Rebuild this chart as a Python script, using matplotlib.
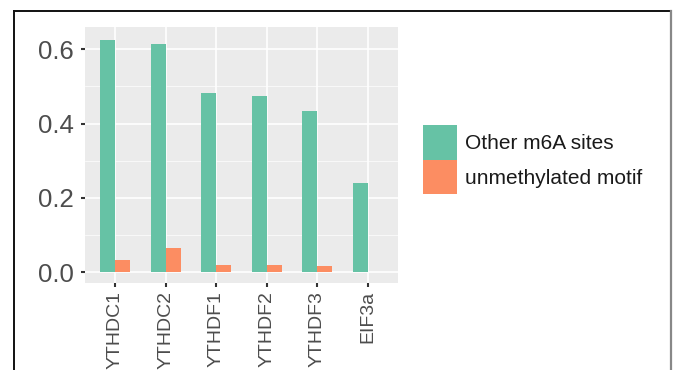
import matplotlib
matplotlib.use("Agg")
import matplotlib.pyplot as plt
import numpy as np
from matplotlib.patches import Patch
from matplotlib.lines import Line2D
from matplotlib.ticker import MultipleLocator

plt.rcParams["font.family"] = ["Liberation Sans", "DejaVu Sans"]

# ---------- data ----------
proteins = ["YTHDC1", "YTHDC2", "YTHDF1", "YTHDF2", "YTHDF3", "EIF3a"]
other_m6a = [0.624, 0.613, 0.483, 0.474, 0.433, 0.239]
unmeth_motif = [0.032, 0.066, 0.019, 0.019, 0.017, 0.0]
series_names = ["Other m6A sites", "unmethylated motif"]
colors = ["#66C2A5", "#FC8D62"]

# ---------- figure ----------
fig = plt.figure(figsize=(6.73, 3.70), dpi=100)
ax = fig.add_axes([85 / 673, 1 - 283 / 370, (398 - 85) / 673, (283 - 27.5) / 370])

x = np.arange(len(proteins))
bw = 0.3
ax.bar(x - bw / 2, other_m6a, width=bw, color=colors[0], zorder=3)
ax.bar(x + bw / 2, unmeth_motif, width=bw, color=colors[1], zorder=3)

# ggplot-like panel
ax.set_facecolor("#EBEBEB")
for s in ax.spines.values():
    s.set_visible(False)
ax.set_xlim(-0.6, 5.6)
ax.set_ylim(-0.0296, 0.6587)
ax.set_xticks(x)
ax.set_xticklabels(proteins, rotation=90)
ax.yaxis.set_major_locator(MultipleLocator(0.2))
ax.yaxis.set_minor_locator(MultipleLocator(0.1))
ax.set_yticks([0.0, 0.2, 0.4, 0.6])
ax.set_yticklabels(["0.0", "0.2", "0.4", "0.6"])
ax.grid(which="major", color="white", linewidth=1.2, zorder=0)
ax.grid(which="minor", axis="y", color="white", linewidth=0.5, zorder=0)
ax.set_axisbelow(True)
ax.tick_params(axis="y", which="major", length=3, width=1.5, color="#333333",
               labelsize=18.5, labelcolor="#4D4D4D", pad=4.8)
ax.tick_params(axis="x", which="major", length=3, width=1.5, color="#333333",
               labelsize=14, labelcolor="#4D4D4D", pad=3)
ax.tick_params(axis="y", which="minor", length=0)

# legend
handles = [Patch(facecolor=c, edgecolor="none") for c in colors]
leg = fig.legend(handles, series_names, loc="upper left",
                 bbox_to_anchor=(406 / 673, 1 - 108 / 370), frameon=False,
                 fontsize=15, handlelength=1.63, handleheight=2.2,
                 labelspacing=0.0, handletextpad=0.4, borderpad=0.3)
for t in leg.get_texts():
    t.set_color("#1A1A1A")

# outer frame
fig.add_artist(Line2D([14 / 673, 14 / 673], [0, 1 - 11 / 370], transform=fig.transFigure,
                      color="#111111", linewidth=1.4))
fig.add_artist(Line2D([14 / 673, 671 / 673], [1 - 11 / 370, 1 - 11 / 370], transform=fig.transFigure,
                      color="#111111", linewidth=1.4))
fig.add_artist(Line2D([671 / 673, 671 / 673], [0, 1 - 11 / 370], transform=fig.transFigure,
                      color="#888888", linewidth=1.6))

fig.savefig("out.png", dpi=100)
